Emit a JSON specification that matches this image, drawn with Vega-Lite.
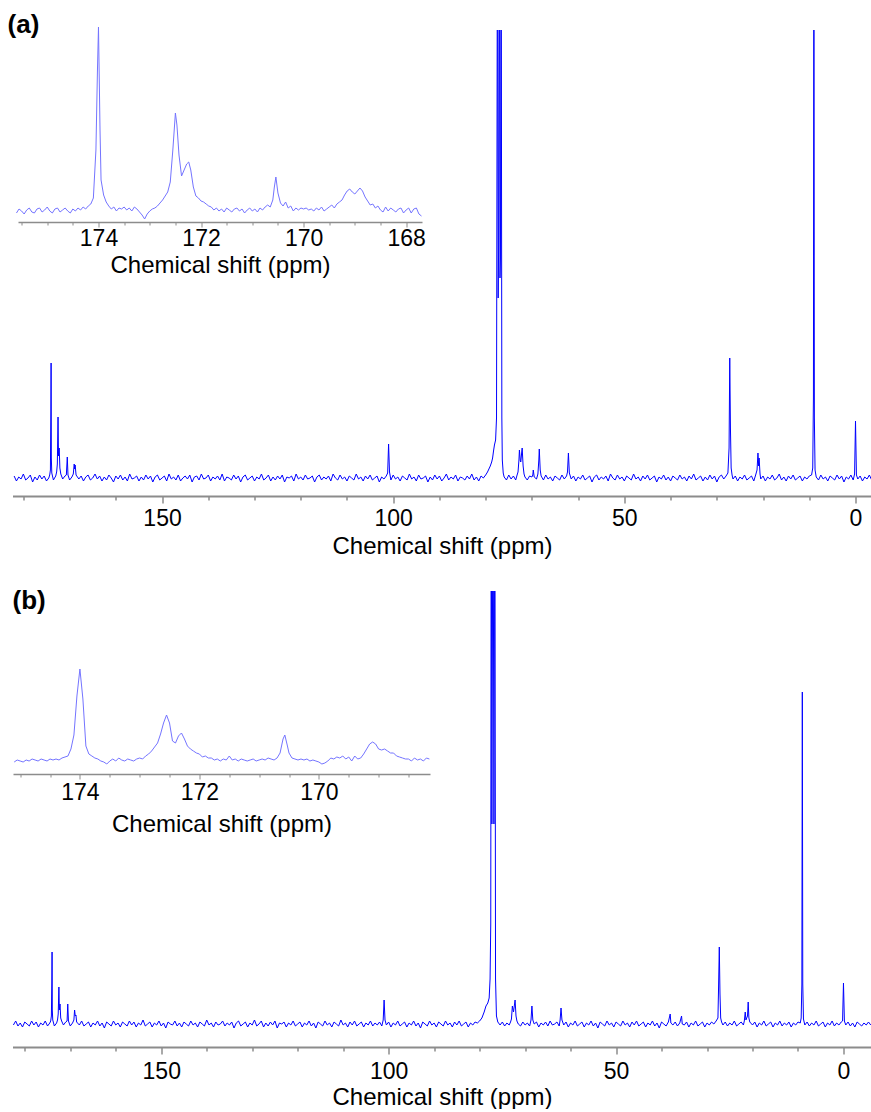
{
"$schema": "https://vega.github.io/schema/vega-lite/v6.json",
"background": "white",
"padding": {"left": 7.5, "top": 12, "right": 0, "bottom": 0},
"spacing": 30,
"config": {"view": {"stroke": null}, "font": "Liberation Sans", "axis": {"labelOverlap": false}},
"datasets": {
"mainA": [
{"ppm":182.0,"int":2},{"ppm":181.5,"int":-3},{"ppm":181.0,"int":1},{"ppm":180.5,"int":-1},{"ppm":180.0,"int":4},{"ppm":179.5,"int":-2},{"ppm":179.0,"int":0},{"ppm":178.5,"int":3},{"ppm":178.0,"int":-4},{"ppm":177.5,"int":1},{"ppm":177.0,"int":-2},{"ppm":176.5,"int":3},{"ppm":176.0,"int":-1},{"ppm":175.5,"int":2},{"ppm":175.0,"int":-3},{"ppm":174.5,"int":0},{"ppm":174.3,"int":3},{"ppm":174.15,"int":8},{"ppm":174.05,"int":67},{"ppm":174.0,"int":115},{"ppm":173.95,"int":20},{"ppm":173.85,"int":5},{"ppm":173.5,"int":-2},{"ppm":173.0,"int":2},{"ppm":172.8,"int":6},{"ppm":172.65,"int":14},{"ppm":172.5,"int":61},{"ppm":172.4,"int":22},{"ppm":172.25,"int":30},{"ppm":172.1,"int":10},{"ppm":171.9,"int":4},{"ppm":171.5,"int":-1},{"ppm":171.0,"int":2},{"ppm":170.7,"int":3},{"ppm":170.5,"int":21},{"ppm":170.35,"int":3},{"ppm":170.0,"int":-2},{"ppm":169.5,"int":1},{"ppm":169.2,"int":4},{"ppm":169.0,"int":14},{"ppm":168.9,"int":9},{"ppm":168.8,"int":13},{"ppm":168.6,"int":3},{"ppm":168.0,"int":-1},{"ppm":167.5,"int":2},{"ppm":167.0,"int":-3},{"ppm":166.5,"int":1},{"ppm":166.0,"int":3},{"ppm":165.5,"int":-2},{"ppm":165.0,"int":0},{"ppm":164.5,"int":4},{"ppm":164.0,"int":-1},{"ppm":163.5,"int":2},{"ppm":163.0,"int":-3},{"ppm":162.5,"int":1},{"ppm":162.0,"int":-2},{"ppm":161.5,"int":3},{"ppm":161.0,"int":0},{"ppm":160.5,"int":-4},{"ppm":160.0,"int":2},{"ppm":159.5,"int":-1},{"ppm":159.0,"int":3},{"ppm":158.5,"int":-2},{"ppm":158.0,"int":1},{"ppm":157.5,"int":-3},{"ppm":157.0,"int":4},{"ppm":156.5,"int":-1},{"ppm":156.0,"int":0},{"ppm":155.5,"int":2},{"ppm":155.0,"int":-3},{"ppm":154.5,"int":1},{"ppm":154.0,"int":-2},{"ppm":153.5,"int":3},{"ppm":153.0,"int":-1},{"ppm":152.5,"int":2},{"ppm":152.0,"int":-4},{"ppm":151.5,"int":1},{"ppm":151.0,"int":3},{"ppm":150.5,"int":-2},{"ppm":150.0,"int":0},{"ppm":149.5,"int":2},{"ppm":149.0,"int":-3},{"ppm":148.5,"int":4},{"ppm":148.0,"int":-1},{"ppm":147.5,"int":1},{"ppm":147.0,"int":-2},{"ppm":146.5,"int":3},{"ppm":146.0,"int":-3},{"ppm":145.5,"int":0},{"ppm":145.0,"int":2},{"ppm":144.5,"int":-1},{"ppm":144.0,"int":3},{"ppm":143.5,"int":-4},{"ppm":143.0,"int":1},{"ppm":142.5,"int":2},{"ppm":142.0,"int":-2},{"ppm":141.5,"int":4},{"ppm":141.0,"int":-1},{"ppm":140.5,"int":0},{"ppm":140.0,"int":3},{"ppm":139.5,"int":-3},{"ppm":139.0,"int":1},{"ppm":138.5,"int":-1},{"ppm":138.0,"int":2},{"ppm":137.5,"int":-2},{"ppm":137.0,"int":4},{"ppm":136.5,"int":-3},{"ppm":136.0,"int":1},{"ppm":135.5,"int":0},{"ppm":135.0,"int":-2},{"ppm":134.5,"int":3},{"ppm":134.0,"int":-1},{"ppm":133.5,"int":2},{"ppm":133.0,"int":-4},{"ppm":132.5,"int":1},{"ppm":132.0,"int":3},{"ppm":131.5,"int":-2},{"ppm":131.0,"int":0},{"ppm":130.5,"int":2},{"ppm":130.0,"int":-3},{"ppm":129.5,"int":1},{"ppm":129.0,"int":-1},{"ppm":128.5,"int":4},{"ppm":128.0,"int":-2},{"ppm":127.5,"int":0},{"ppm":127.0,"int":3},{"ppm":126.5,"int":-3},{"ppm":126.0,"int":1},{"ppm":125.5,"int":-2},{"ppm":125.0,"int":2},{"ppm":124.5,"int":-1},{"ppm":124.0,"int":3},{"ppm":123.5,"int":-4},{"ppm":123.0,"int":1},{"ppm":122.5,"int":0},{"ppm":122.0,"int":2},{"ppm":121.5,"int":-3},{"ppm":121.0,"int":4},{"ppm":120.5,"int":-1},{"ppm":120.0,"int":1},{"ppm":119.5,"int":-2},{"ppm":119.0,"int":3},{"ppm":118.5,"int":-1},{"ppm":118.0,"int":0},{"ppm":117.5,"int":2},{"ppm":117.0,"int":-4},{"ppm":116.5,"int":1},{"ppm":116.0,"int":3},{"ppm":115.5,"int":-2},{"ppm":115.0,"int":1},{"ppm":114.5,"int":-1},{"ppm":114.0,"int":2},{"ppm":113.5,"int":-3},{"ppm":113.0,"int":4},{"ppm":112.5,"int":0},{"ppm":112.0,"int":-2},{"ppm":111.5,"int":3},{"ppm":111.0,"int":-1},{"ppm":110.5,"int":1},{"ppm":110.0,"int":-3},{"ppm":109.5,"int":2},{"ppm":109.0,"int":0},{"ppm":108.5,"int":-2},{"ppm":108.0,"int":4},{"ppm":107.5,"int":-1},{"ppm":107.0,"int":1},{"ppm":106.5,"int":-3},{"ppm":106.0,"int":2},{"ppm":105.5,"int":-1},{"ppm":105.0,"int":3},{"ppm":104.5,"int":-2},{"ppm":104.0,"int":0},{"ppm":103.5,"int":2},{"ppm":103.0,"int":-4},{"ppm":102.5,"int":1},{"ppm":102.0,"int":-1},{"ppm":101.5,"int":2},{"ppm":101.2,"int":5},{"ppm":101.0,"int":34},{"ppm":100.8,"int":6},{"ppm":100.5,"int":-2},{"ppm":100.0,"int":3},{"ppm":99.5,"int":-1},{"ppm":99.0,"int":1},{"ppm":98.5,"int":-3},{"ppm":98.0,"int":2},{"ppm":97.5,"int":0},{"ppm":97.0,"int":-2},{"ppm":96.5,"int":4},{"ppm":96.0,"int":-1},{"ppm":95.5,"int":1},{"ppm":95.0,"int":-3},{"ppm":94.5,"int":3},{"ppm":94.0,"int":-1},{"ppm":93.5,"int":0},{"ppm":93.0,"int":2},{"ppm":92.5,"int":-4},{"ppm":92.0,"int":1},{"ppm":91.5,"int":-2},{"ppm":91.0,"int":3},{"ppm":90.5,"int":-1},{"ppm":90.0,"int":2},{"ppm":89.5,"int":-3},{"ppm":89.0,"int":0},{"ppm":88.5,"int":4},{"ppm":88.0,"int":-2},{"ppm":87.5,"int":1},{"ppm":87.0,"int":-1},{"ppm":86.5,"int":3},{"ppm":86.0,"int":-3},{"ppm":85.5,"int":1},{"ppm":85.0,"int":0},{"ppm":84.5,"int":-2},{"ppm":84.0,"int":2},{"ppm":83.5,"int":-1},{"ppm":83.0,"int":4},{"ppm":82.5,"int":-2},{"ppm":82.0,"int":1},{"ppm":81.5,"int":-3},{"ppm":81.0,"int":2},{"ppm":80.5,"int":0},{"ppm":80.0,"int":3},{"ppm":79.6,"int":6},{"ppm":79.3,"int":9},{"ppm":79.0,"int":12},{"ppm":78.7,"int":16},{"ppm":78.5,"int":20},{"ppm":78.3,"int":27},{"ppm":78.1,"int":33},{"ppm":77.85,"int":38},{"ppm":77.65,"int":60},{"ppm":77.45,"int":600},{"ppm":77.3,"int":180},{"ppm":77.2,"int":230},{"ppm":77.05,"int":600},{"ppm":76.9,"int":200},{"ppm":76.8,"int":220},{"ppm":76.65,"int":600},{"ppm":76.5,"int":60},{"ppm":76.4,"int":18},{"ppm":76.2,"int":5},{"ppm":76.0,"int":1},{"ppm":75.5,"int":-2},{"ppm":75.0,"int":3},{"ppm":74.5,"int":-1},{"ppm":74.0,"int":2},{"ppm":73.5,"int":-2},{"ppm":73.2,"int":3},{"ppm":73.0,"int":6},{"ppm":72.8,"int":18},{"ppm":72.7,"int":28},{"ppm":72.5,"int":17},{"ppm":72.4,"int":16},{"ppm":72.2,"int":26},{"ppm":72.1,"int":30},{"ppm":71.9,"int":12},{"ppm":71.7,"int":4},{"ppm":71.5,"int":1},{"ppm":71.0,"int":-2},{"ppm":70.5,"int":2},{"ppm":70.0,"int":1},{"ppm":69.8,"int":3},{"ppm":69.7,"int":8},{"ppm":69.5,"int":1},{"ppm":69.0,"int":-1},{"ppm":68.7,"int":4},{"ppm":68.5,"int":18},{"ppm":68.4,"int":29},{"ppm":68.2,"int":8},{"ppm":68.0,"int":2},{"ppm":67.5,"int":-2},{"ppm":67.0,"int":3},{"ppm":66.5,"int":-1},{"ppm":66.0,"int":1},{"ppm":65.5,"int":-3},{"ppm":65.0,"int":2},{"ppm":64.5,"int":0},{"ppm":64.0,"int":-2},{"ppm":63.5,"int":3},{"ppm":63.0,"int":-1},{"ppm":62.5,"int":2},{"ppm":62.3,"int":6},{"ppm":62.1,"int":25},{"ppm":61.9,"int":5},{"ppm":61.5,"int":-1},{"ppm":61.0,"int":2},{"ppm":60.5,"int":-3},{"ppm":60.0,"int":1},{"ppm":59.5,"int":-1},{"ppm":59.0,"int":3},{"ppm":58.5,"int":-2},{"ppm":58.0,"int":0},{"ppm":57.5,"int":2},{"ppm":57.0,"int":-4},{"ppm":56.5,"int":1},{"ppm":56.0,"int":3},{"ppm":55.5,"int":-2},{"ppm":55.0,"int":1},{"ppm":54.5,"int":-1},{"ppm":54.0,"int":2},{"ppm":53.5,"int":-3},{"ppm":53.0,"int":4},{"ppm":52.5,"int":0},{"ppm":52.0,"int":-2},{"ppm":51.5,"int":3},{"ppm":51.0,"int":-1},{"ppm":50.5,"int":1},{"ppm":50.0,"int":-3},{"ppm":49.5,"int":2},{"ppm":49.0,"int":0},{"ppm":48.5,"int":-2},{"ppm":48.0,"int":4},{"ppm":47.5,"int":-1},{"ppm":47.0,"int":1},{"ppm":46.5,"int":-3},{"ppm":46.0,"int":2},{"ppm":45.5,"int":-1},{"ppm":45.0,"int":3},{"ppm":44.5,"int":-2},{"ppm":44.0,"int":0},{"ppm":43.5,"int":2},{"ppm":43.0,"int":-4},{"ppm":42.5,"int":1},{"ppm":42.0,"int":-1},{"ppm":41.5,"int":3},{"ppm":41.0,"int":-2},{"ppm":40.5,"int":1},{"ppm":40.0,"int":-3},{"ppm":39.5,"int":2},{"ppm":39.0,"int":0},{"ppm":38.5,"int":-2},{"ppm":38.0,"int":3},{"ppm":37.5,"int":-1},{"ppm":37.0,"int":1},{"ppm":36.5,"int":-3},{"ppm":36.0,"int":2},{"ppm":35.5,"int":-1},{"ppm":35.0,"int":4},{"ppm":34.5,"int":-2},{"ppm":34.0,"int":0},{"ppm":33.5,"int":2},{"ppm":33.0,"int":-3},{"ppm":32.5,"int":1},{"ppm":32.0,"int":-2},{"ppm":31.5,"int":3},{"ppm":31.0,"int":-1},{"ppm":30.5,"int":2},{"ppm":30.0,"int":-4},{"ppm":29.5,"int":1},{"ppm":29.0,"int":3},{"ppm":28.5,"int":-1},{"ppm":28.0,"int":2},{"ppm":27.6,"int":5},{"ppm":27.35,"int":30},{"ppm":27.2,"int":120},{"ppm":27.05,"int":50},{"ppm":26.9,"int":10},{"ppm":26.7,"int":3},{"ppm":26.5,"int":-1},{"ppm":26.0,"int":2},{"ppm":25.5,"int":-3},{"ppm":25.0,"int":1},{"ppm":24.5,"int":-1},{"ppm":24.0,"int":3},{"ppm":23.5,"int":-2},{"ppm":23.0,"int":0},{"ppm":22.5,"int":2},{"ppm":22.0,"int":-3},{"ppm":21.6,"int":3},{"ppm":21.3,"int":8},{"ppm":21.1,"int":25},{"ppm":20.95,"int":12},{"ppm":20.85,"int":20},{"ppm":20.65,"int":4},{"ppm":20.5,"int":-1},{"ppm":20.0,"int":2},{"ppm":19.5,"int":-3},{"ppm":19.0,"int":1},{"ppm":18.5,"int":-1},{"ppm":18.0,"int":3},{"ppm":17.5,"int":-2},{"ppm":17.0,"int":0},{"ppm":16.5,"int":4},{"ppm":16.0,"int":-2},{"ppm":15.5,"int":1},{"ppm":15.0,"int":-3},{"ppm":14.5,"int":2},{"ppm":14.0,"int":-1},{"ppm":13.5,"int":3},{"ppm":13.0,"int":-2},{"ppm":12.5,"int":0},{"ppm":12.0,"int":2},{"ppm":11.5,"int":-3},{"ppm":11.0,"int":1},{"ppm":10.5,"int":-1},{"ppm":10.0,"int":2},{"ppm":9.5,"int":3},{"ppm":9.25,"int":10},{"ppm":9.1,"int":80},{"ppm":9.0,"int":600},{"ppm":8.9,"int":60},{"ppm":8.75,"int":8},{"ppm":8.5,"int":1},{"ppm":8.0,"int":-2},{"ppm":7.5,"int":3},{"ppm":7.0,"int":-1},{"ppm":6.5,"int":1},{"ppm":6.0,"int":-3},{"ppm":5.5,"int":2},{"ppm":5.0,"int":0},{"ppm":4.5,"int":-2},{"ppm":4.0,"int":3},{"ppm":3.5,"int":-1},{"ppm":3.0,"int":2},{"ppm":2.5,"int":-4},{"ppm":2.0,"int":1},{"ppm":1.5,"int":-1},{"ppm":1.0,"int":3},{"ppm":0.5,"int":-2},{"ppm":0.2,"int":4},{"ppm":0.0,"int":57},{"ppm":-0.2,"int":3},{"ppm":-0.5,"int":-1},{"ppm":-1.0,"int":2},{"ppm":-1.5,"int":-3},{"ppm":-2.0,"int":1},{"ppm":-2.5,"int":-1},{"ppm":-3.0,"int":3},{"ppm":-3.5,"int":-2}
],
"insetA": [
{"ppm":175.6,"int":-3},{"ppm":175.55,"int":1},{"ppm":175.5,"int":-1},{"ppm":175.45,"int":-4},{"ppm":175.4,"int":0},{"ppm":175.35,"int":2},{"ppm":175.3,"int":-2},{"ppm":175.25,"int":-3},{"ppm":175.2,"int":1},{"ppm":175.15,"int":2},{"ppm":175.1,"int":-2},{"ppm":175.05,"int":0},{"ppm":175.0,"int":3},{"ppm":174.95,"int":-1},{"ppm":174.9,"int":-3},{"ppm":174.85,"int":1},{"ppm":174.8,"int":2},{"ppm":174.75,"int":-2},{"ppm":174.7,"int":0},{"ppm":174.65,"int":2},{"ppm":174.6,"int":-1},{"ppm":174.55,"int":-3},{"ppm":174.5,"int":1},{"ppm":174.45,"int":-1},{"ppm":174.4,"int":2},{"ppm":174.35,"int":0},{"ppm":174.3,"int":3},{"ppm":174.25,"int":1},{"ppm":174.2,"int":4},{"ppm":174.15,"int":6},{"ppm":174.1,"int":12},{"ppm":174.05,"int":60},{"ppm":174.02,"int":140},{"ppm":174.0,"int":183},{"ppm":173.97,"int":80},{"ppm":173.95,"int":30},{"ppm":173.9,"int":15},{"ppm":173.85,"int":8},{"ppm":173.8,"int":4},{"ppm":173.75,"int":1},{"ppm":173.7,"int":3},{"ppm":173.65,"int":-1},{"ppm":173.6,"int":2},{"ppm":173.55,"int":1},{"ppm":173.5,"int":3},{"ppm":173.45,"int":0},{"ppm":173.4,"int":2},{"ppm":173.35,"int":-1},{"ppm":173.3,"int":3},{"ppm":173.25,"int":1},{"ppm":173.2,"int":-2},{"ppm":173.15,"int":-5},{"ppm":173.1,"int":-9},{"ppm":173.05,"int":-4},{"ppm":173.0,"int":-1},{"ppm":172.95,"int":1},{"ppm":172.9,"int":2},{"ppm":172.85,"int":4},{"ppm":172.8,"int":7},{"ppm":172.75,"int":10},{"ppm":172.7,"int":14},{"ppm":172.65,"int":18},{"ppm":172.6,"int":28},{"ppm":172.55,"int":60},{"ppm":172.5,"int":97},{"ppm":172.47,"int":85},{"ppm":172.43,"int":55},{"ppm":172.38,"int":34},{"ppm":172.33,"int":40},{"ppm":172.28,"int":46},{"ppm":172.24,"int":48},{"ppm":172.2,"int":40},{"ppm":172.15,"int":23},{"ppm":172.1,"int":14},{"ppm":172.05,"int":12},{"ppm":172.0,"int":9},{"ppm":171.95,"int":8},{"ppm":171.9,"int":6},{"ppm":171.85,"int":4},{"ppm":171.8,"int":3},{"ppm":171.75,"int":0},{"ppm":171.7,"int":2},{"ppm":171.65,"int":-1},{"ppm":171.6,"int":1},{"ppm":171.55,"int":-2},{"ppm":171.5,"int":2},{"ppm":171.45,"int":0},{"ppm":171.4,"int":-2},{"ppm":171.35,"int":1},{"ppm":171.3,"int":2},{"ppm":171.25,"int":-1},{"ppm":171.2,"int":1},{"ppm":171.15,"int":-3},{"ppm":171.1,"int":0},{"ppm":171.05,"int":2},{"ppm":171.0,"int":-1},{"ppm":170.95,"int":1},{"ppm":170.9,"int":-2},{"ppm":170.85,"int":2},{"ppm":170.8,"int":0},{"ppm":170.75,"int":3},{"ppm":170.7,"int":5},{"ppm":170.65,"int":3},{"ppm":170.6,"int":10},{"ppm":170.57,"int":23},{"ppm":170.54,"int":33},{"ppm":170.5,"int":17},{"ppm":170.45,"int":7},{"ppm":170.4,"int":4},{"ppm":170.35,"int":8},{"ppm":170.3,"int":2},{"ppm":170.25,"int":4},{"ppm":170.2,"int":-1},{"ppm":170.15,"int":2},{"ppm":170.1,"int":0},{"ppm":170.05,"int":2},{"ppm":170.0,"int":1},{"ppm":169.95,"int":2},{"ppm":169.9,"int":0},{"ppm":169.85,"int":1},{"ppm":169.8,"int":-1},{"ppm":169.75,"int":2},{"ppm":169.7,"int":0},{"ppm":169.65,"int":3},{"ppm":169.6,"int":-1},{"ppm":169.55,"int":1},{"ppm":169.5,"int":3},{"ppm":169.45,"int":5},{"ppm":169.4,"int":2},{"ppm":169.35,"int":6},{"ppm":169.3,"int":8},{"ppm":169.25,"int":10},{"ppm":169.2,"int":15},{"ppm":169.15,"int":19},{"ppm":169.1,"int":21},{"ppm":169.05,"int":18},{"ppm":169.0,"int":16},{"ppm":168.95,"int":19},{"ppm":168.9,"int":22},{"ppm":168.85,"int":19},{"ppm":168.8,"int":13},{"ppm":168.75,"int":9},{"ppm":168.7,"int":5},{"ppm":168.65,"int":6},{"ppm":168.6,"int":2},{"ppm":168.55,"int":4},{"ppm":168.5,"int":0},{"ppm":168.45,"int":-2},{"ppm":168.4,"int":3},{"ppm":168.35,"int":-1},{"ppm":168.3,"int":2},{"ppm":168.25,"int":0},{"ppm":168.2,"int":-2},{"ppm":168.15,"int":1},{"ppm":168.1,"int":2},{"ppm":168.05,"int":-3},{"ppm":168.0,"int":0},{"ppm":167.95,"int":2},{"ppm":167.9,"int":-3},{"ppm":167.85,"int":1},{"ppm":167.8,"int":2},{"ppm":167.75,"int":-4},{"ppm":167.7,"int":-6}
],
"mainB": [
{"ppm":182.5,"int":-1},{"ppm":182.0,"int":3},{"ppm":181.5,"int":-2},{"ppm":181.0,"int":1},{"ppm":180.5,"int":-3},{"ppm":180.0,"int":2},{"ppm":179.5,"int":0},{"ppm":179.0,"int":-2},{"ppm":178.5,"int":3},{"ppm":178.0,"int":-1},{"ppm":177.5,"int":2},{"ppm":177.0,"int":-3},{"ppm":176.5,"int":1},{"ppm":176.0,"int":-1},{"ppm":175.5,"int":3},{"ppm":175.0,"int":-2},{"ppm":174.5,"int":1},{"ppm":174.3,"int":3},{"ppm":174.15,"int":8},{"ppm":174.05,"int":42},{"ppm":174.0,"int":72},{"ppm":173.95,"int":14},{"ppm":173.85,"int":4},{"ppm":173.5,"int":-2},{"ppm":173.0,"int":1},{"ppm":172.8,"int":4},{"ppm":172.65,"int":10},{"ppm":172.5,"int":37},{"ppm":172.4,"int":14},{"ppm":172.25,"int":20},{"ppm":172.1,"int":6},{"ppm":171.9,"int":3},{"ppm":171.5,"int":-1},{"ppm":171.0,"int":2},{"ppm":170.7,"int":3},{"ppm":170.55,"int":20},{"ppm":170.4,"int":3},{"ppm":170.0,"int":-2},{"ppm":169.5,"int":1},{"ppm":169.2,"int":4},{"ppm":169.05,"int":14},{"ppm":168.9,"int":8},{"ppm":168.75,"int":9},{"ppm":168.6,"int":2},{"ppm":168.0,"int":-1},{"ppm":167.5,"int":3},{"ppm":167.0,"int":-2},{"ppm":166.5,"int":0},{"ppm":166.0,"int":2},{"ppm":165.5,"int":-3},{"ppm":165.0,"int":1},{"ppm":164.5,"int":-1},{"ppm":164.0,"int":3},{"ppm":163.5,"int":-2},{"ppm":163.0,"int":1},{"ppm":162.5,"int":-4},{"ppm":162.0,"int":2},{"ppm":161.5,"int":0},{"ppm":161.0,"int":-2},{"ppm":160.5,"int":3},{"ppm":160.0,"int":-1},{"ppm":159.5,"int":1},{"ppm":159.0,"int":-3},{"ppm":158.5,"int":2},{"ppm":158.0,"int":0},{"ppm":157.5,"int":-2},{"ppm":157.0,"int":3},{"ppm":156.5,"int":-1},{"ppm":156.0,"int":2},{"ppm":155.5,"int":-3},{"ppm":155.0,"int":1},{"ppm":154.5,"int":-1},{"ppm":154.0,"int":4},{"ppm":153.5,"int":-2},{"ppm":153.0,"int":0},{"ppm":152.5,"int":2},{"ppm":152.0,"int":-3},{"ppm":151.5,"int":1},{"ppm":151.0,"int":-1},{"ppm":150.5,"int":3},{"ppm":150.0,"int":-2},{"ppm":149.5,"int":1},{"ppm":149.0,"int":-4},{"ppm":148.5,"int":2},{"ppm":148.0,"int":0},{"ppm":147.5,"int":-1},{"ppm":147.0,"int":3},{"ppm":146.5,"int":-2},{"ppm":146.0,"int":1},{"ppm":145.5,"int":-3},{"ppm":145.0,"int":2},{"ppm":144.5,"int":0},{"ppm":144.0,"int":-2},{"ppm":143.5,"int":3},{"ppm":143.0,"int":-1},{"ppm":142.5,"int":1},{"ppm":142.0,"int":-3},{"ppm":141.5,"int":2},{"ppm":141.0,"int":0},{"ppm":140.5,"int":-2},{"ppm":140.0,"int":4},{"ppm":139.5,"int":-1},{"ppm":139.0,"int":1},{"ppm":138.5,"int":-3},{"ppm":138.0,"int":2},{"ppm":137.5,"int":-1},{"ppm":137.0,"int":0},{"ppm":136.5,"int":3},{"ppm":136.0,"int":-2},{"ppm":135.5,"int":1},{"ppm":135.0,"int":-1},{"ppm":134.5,"int":2},{"ppm":134.0,"int":-4},{"ppm":133.5,"int":1},{"ppm":133.0,"int":3},{"ppm":132.5,"int":-2},{"ppm":132.0,"int":0},{"ppm":131.5,"int":2},{"ppm":131.0,"int":-3},{"ppm":130.5,"int":1},{"ppm":130.0,"int":-1},{"ppm":129.5,"int":4},{"ppm":129.0,"int":-2},{"ppm":128.5,"int":0},{"ppm":128.0,"int":3},{"ppm":127.5,"int":-3},{"ppm":127.0,"int":1},{"ppm":126.5,"int":-2},{"ppm":126.0,"int":2},{"ppm":125.5,"int":-1},{"ppm":125.0,"int":3},{"ppm":124.5,"int":-4},{"ppm":124.0,"int":1},{"ppm":123.5,"int":0},{"ppm":123.0,"int":2},{"ppm":122.5,"int":-3},{"ppm":122.0,"int":1},{"ppm":121.5,"int":-1},{"ppm":121.0,"int":3},{"ppm":120.5,"int":-2},{"ppm":120.0,"int":0},{"ppm":119.5,"int":2},{"ppm":119.0,"int":-3},{"ppm":118.5,"int":1},{"ppm":118.0,"int":-1},{"ppm":117.5,"int":3},{"ppm":117.0,"int":-2},{"ppm":116.5,"int":1},{"ppm":116.0,"int":-4},{"ppm":115.5,"int":2},{"ppm":115.0,"int":0},{"ppm":114.5,"int":-2},{"ppm":114.0,"int":3},{"ppm":113.5,"int":-1},{"ppm":113.0,"int":1},{"ppm":112.5,"int":-3},{"ppm":112.0,"int":2},{"ppm":111.5,"int":0},{"ppm":111.0,"int":-2},{"ppm":110.5,"int":4},{"ppm":110.0,"int":-1},{"ppm":109.5,"int":1},{"ppm":109.0,"int":-3},{"ppm":108.5,"int":2},{"ppm":108.0,"int":-1},{"ppm":107.5,"int":3},{"ppm":107.0,"int":-2},{"ppm":106.5,"int":0},{"ppm":106.0,"int":2},{"ppm":105.5,"int":-3},{"ppm":105.0,"int":1},{"ppm":104.5,"int":-1},{"ppm":104.0,"int":3},{"ppm":103.5,"int":-2},{"ppm":103.0,"int":1},{"ppm":102.5,"int":-1},{"ppm":102.0,"int":2},{"ppm":101.5,"int":-2},{"ppm":101.2,"int":4},{"ppm":101.0,"int":24},{"ppm":100.8,"int":4},{"ppm":100.5,"int":-1},{"ppm":100.0,"int":2},{"ppm":99.5,"int":-3},{"ppm":99.0,"int":1},{"ppm":98.5,"int":-1},{"ppm":98.0,"int":3},{"ppm":97.5,"int":-2},{"ppm":97.0,"int":0},{"ppm":96.5,"int":2},{"ppm":96.0,"int":-3},{"ppm":95.5,"int":1},{"ppm":95.0,"int":-1},{"ppm":94.5,"int":3},{"ppm":94.0,"int":-2},{"ppm":93.5,"int":1},{"ppm":93.0,"int":-4},{"ppm":92.5,"int":2},{"ppm":92.0,"int":0},{"ppm":91.5,"int":-2},{"ppm":91.0,"int":3},{"ppm":90.5,"int":-1},{"ppm":90.0,"int":1},{"ppm":89.5,"int":-3},{"ppm":89.0,"int":2},{"ppm":88.5,"int":0},{"ppm":88.0,"int":-2},{"ppm":87.5,"int":3},{"ppm":87.0,"int":-1},{"ppm":86.5,"int":1},{"ppm":86.0,"int":-3},{"ppm":85.5,"int":2},{"ppm":85.0,"int":-1},{"ppm":84.5,"int":3},{"ppm":84.0,"int":-2},{"ppm":83.5,"int":0},{"ppm":83.0,"int":2},{"ppm":82.5,"int":-3},{"ppm":82.0,"int":1},{"ppm":81.5,"int":-1},{"ppm":81.0,"int":2},{"ppm":80.5,"int":1},{"ppm":80.0,"int":3},{"ppm":79.5,"int":6},{"ppm":79.0,"int":12},{"ppm":78.6,"int":18},{"ppm":78.2,"int":21},{"ppm":77.9,"int":26},{"ppm":77.7,"int":45},{"ppm":77.55,"int":100},{"ppm":77.45,"int":600},{"ppm":77.3,"int":200},{"ppm":77.05,"int":600},{"ppm":76.85,"int":200},{"ppm":76.65,"int":600},{"ppm":76.5,"int":45},{"ppm":76.3,"int":8},{"ppm":76.0,"int":2},{"ppm":75.5,"int":-1},{"ppm":75.0,"int":2},{"ppm":74.5,"int":-2},{"ppm":74.0,"int":1},{"ppm":73.5,"int":-1},{"ppm":73.2,"int":2},{"ppm":73.0,"int":5},{"ppm":72.8,"int":18},{"ppm":72.55,"int":12},{"ppm":72.2,"int":24},{"ppm":72.0,"int":8},{"ppm":71.8,"int":3},{"ppm":71.5,"int":0},{"ppm":71.0,"int":-2},{"ppm":70.5,"int":2},{"ppm":70.0,"int":-1},{"ppm":69.5,"int":1},{"ppm":69.0,"int":-2},{"ppm":68.7,"int":4},{"ppm":68.5,"int":18},{"ppm":68.3,"int":4},{"ppm":68.0,"int":0},{"ppm":67.5,"int":2},{"ppm":67.0,"int":-3},{"ppm":66.5,"int":1},{"ppm":66.0,"int":-1},{"ppm":65.5,"int":2},{"ppm":65.0,"int":-2},{"ppm":64.5,"int":3},{"ppm":64.0,"int":-1},{"ppm":63.5,"int":0},{"ppm":63.0,"int":2},{"ppm":62.5,"int":-2},{"ppm":62.3,"int":4},{"ppm":62.1,"int":16},{"ppm":61.9,"int":4},{"ppm":61.5,"int":-1},{"ppm":61.0,"int":2},{"ppm":60.5,"int":-3},{"ppm":60.0,"int":1},{"ppm":59.5,"int":-1},{"ppm":59.0,"int":3},{"ppm":58.5,"int":-2},{"ppm":58.0,"int":0},{"ppm":57.5,"int":2},{"ppm":57.0,"int":-3},{"ppm":56.5,"int":1},{"ppm":56.0,"int":-1},{"ppm":55.5,"int":3},{"ppm":55.0,"int":-2},{"ppm":54.5,"int":1},{"ppm":54.0,"int":-4},{"ppm":53.5,"int":2},{"ppm":53.0,"int":0},{"ppm":52.5,"int":-2},{"ppm":52.0,"int":3},{"ppm":51.5,"int":-1},{"ppm":51.0,"int":1},{"ppm":50.5,"int":-3},{"ppm":50.0,"int":2},{"ppm":49.5,"int":0},{"ppm":49.0,"int":-2},{"ppm":48.5,"int":3},{"ppm":48.0,"int":-1},{"ppm":47.5,"int":1},{"ppm":47.0,"int":-3},{"ppm":46.5,"int":2},{"ppm":46.0,"int":-1},{"ppm":45.5,"int":3},{"ppm":45.0,"int":-2},{"ppm":44.5,"int":0},{"ppm":44.0,"int":2},{"ppm":43.5,"int":-3},{"ppm":43.0,"int":1},{"ppm":42.5,"int":-1},{"ppm":42.0,"int":3},{"ppm":41.5,"int":-2},{"ppm":41.0,"int":1},{"ppm":40.5,"int":-4},{"ppm":40.0,"int":2},{"ppm":39.5,"int":0},{"ppm":39.0,"int":-2},{"ppm":38.5,"int":2},{"ppm":38.1,"int":10},{"ppm":37.95,"int":1},{"ppm":37.5,"int":-1},{"ppm":37.0,"int":2},{"ppm":36.5,"int":-2},{"ppm":36.0,"int":1},{"ppm":35.6,"int":8},{"ppm":35.45,"int":0},{"ppm":35.0,"int":-1},{"ppm":34.5,"int":2},{"ppm":34.0,"int":-3},{"ppm":33.5,"int":1},{"ppm":33.0,"int":-1},{"ppm":32.5,"int":3},{"ppm":32.0,"int":-2},{"ppm":31.5,"int":0},{"ppm":31.0,"int":2},{"ppm":30.5,"int":-3},{"ppm":30.0,"int":1},{"ppm":29.5,"int":-1},{"ppm":29.0,"int":2},{"ppm":28.5,"int":0},{"ppm":28.0,"int":3},{"ppm":27.6,"int":6},{"ppm":27.45,"int":40},{"ppm":27.3,"int":77},{"ppm":27.15,"int":30},{"ppm":27.0,"int":6},{"ppm":26.8,"int":2},{"ppm":26.5,"int":-1},{"ppm":26.0,"int":2},{"ppm":25.5,"int":-2},{"ppm":25.0,"int":1},{"ppm":24.5,"int":-1},{"ppm":24.0,"int":3},{"ppm":23.5,"int":-2},{"ppm":23.0,"int":0},{"ppm":22.5,"int":2},{"ppm":22.0,"int":-1},{"ppm":21.8,"int":3},{"ppm":21.6,"int":12},{"ppm":21.45,"int":4},{"ppm":21.1,"int":8},{"ppm":20.95,"int":22},{"ppm":20.8,"int":6},{"ppm":20.6,"int":2},{"ppm":20.0,"int":-1},{"ppm":19.5,"int":2},{"ppm":19.0,"int":-3},{"ppm":18.5,"int":1},{"ppm":18.0,"int":-1},{"ppm":17.5,"int":3},{"ppm":17.0,"int":-2},{"ppm":16.5,"int":0},{"ppm":16.0,"int":2},{"ppm":15.5,"int":-3},{"ppm":15.0,"int":1},{"ppm":14.5,"int":-1},{"ppm":14.0,"int":3},{"ppm":13.5,"int":-2},{"ppm":13.0,"int":1},{"ppm":12.5,"int":-1},{"ppm":12.0,"int":2},{"ppm":11.5,"int":-3},{"ppm":11.0,"int":1},{"ppm":10.5,"int":-1},{"ppm":10.0,"int":2},{"ppm":9.5,"int":1},{"ppm":9.3,"int":6},{"ppm":9.15,"int":40},{"ppm":9.05,"int":332},{"ppm":8.95,"int":40},{"ppm":8.8,"int":5},{"ppm":8.5,"int":-1},{"ppm":8.0,"int":2},{"ppm":7.5,"int":-2},{"ppm":7.0,"int":1},{"ppm":6.5,"int":-1},{"ppm":6.0,"int":3},{"ppm":5.5,"int":-2},{"ppm":5.0,"int":0},{"ppm":4.5,"int":2},{"ppm":4.0,"int":-3},{"ppm":3.5,"int":1},{"ppm":3.0,"int":-1},{"ppm":2.5,"int":3},{"ppm":2.0,"int":-2},{"ppm":1.5,"int":1},{"ppm":1.0,"int":-1},{"ppm":0.5,"int":2},{"ppm":0.2,"int":3},{"ppm":0.0,"int":41},{"ppm":-0.2,"int":3},{"ppm":-0.5,"int":-1},{"ppm":-1.0,"int":2},{"ppm":-1.5,"int":-2},{"ppm":-2.0,"int":1},{"ppm":-2.5,"int":-3},{"ppm":-3.0,"int":2},{"ppm":-3.5,"int":0},{"ppm":-4.0,"int":-2},{"ppm":-4.5,"int":1},{"ppm":-5.0,"int":-1},{"ppm":-5.5,"int":2},{"ppm":-6.0,"int":-1}
],
"insetB": [
{"ppm":175.1,"int":-2},{"ppm":175.05,"int":0},{"ppm":175.0,"int":-1},{"ppm":174.95,"int":-2},{"ppm":174.9,"int":0},{"ppm":174.85,"int":-1},{"ppm":174.8,"int":1},{"ppm":174.75,"int":0},{"ppm":174.7,"int":-1},{"ppm":174.65,"int":1},{"ppm":174.6,"int":0},{"ppm":174.55,"int":-1},{"ppm":174.5,"int":1},{"ppm":174.45,"int":0},{"ppm":174.4,"int":1},{"ppm":174.35,"int":0},{"ppm":174.3,"int":2},{"ppm":174.2,"int":4},{"ppm":174.15,"int":11},{"ppm":174.1,"int":25},{"ppm":174.05,"int":64},{"ppm":174.0,"int":91},{"ppm":173.95,"int":61},{"ppm":173.9,"int":14},{"ppm":173.85,"int":6},{"ppm":173.8,"int":4},{"ppm":173.75,"int":2},{"ppm":173.7,"int":1},{"ppm":173.65,"int":-1},{"ppm":173.6,"int":-2},{"ppm":173.55,"int":-4},{"ppm":173.5,"int":-1},{"ppm":173.45,"int":1},{"ppm":173.4,"int":-1},{"ppm":173.35,"int":2},{"ppm":173.3,"int":0},{"ppm":173.25,"int":-1},{"ppm":173.2,"int":1},{"ppm":173.15,"int":0},{"ppm":173.1,"int":-1},{"ppm":173.05,"int":1},{"ppm":173.0,"int":2},{"ppm":172.95,"int":1},{"ppm":172.9,"int":4},{"ppm":172.85,"int":6},{"ppm":172.8,"int":9},{"ppm":172.75,"int":13},{"ppm":172.7,"int":17},{"ppm":172.65,"int":26},{"ppm":172.6,"int":37},{"ppm":172.55,"int":45},{"ppm":172.5,"int":37},{"ppm":172.45,"int":19},{"ppm":172.4,"int":17},{"ppm":172.35,"int":24},{"ppm":172.3,"int":27},{"ppm":172.25,"int":21},{"ppm":172.2,"int":14},{"ppm":172.15,"int":11},{"ppm":172.1,"int":9},{"ppm":172.05,"int":7},{"ppm":172.0,"int":6},{"ppm":171.95,"int":3},{"ppm":171.9,"int":4},{"ppm":171.85,"int":2},{"ppm":171.8,"int":2},{"ppm":171.75,"int":0},{"ppm":171.7,"int":1},{"ppm":171.65,"int":-1},{"ppm":171.6,"int":1},{"ppm":171.55,"int":0},{"ppm":171.5,"int":4},{"ppm":171.45,"int":0},{"ppm":171.4,"int":1},{"ppm":171.35,"int":-1},{"ppm":171.3,"int":1},{"ppm":171.25,"int":0},{"ppm":171.2,"int":-1},{"ppm":171.15,"int":0},{"ppm":171.1,"int":1},{"ppm":171.05,"int":-1},{"ppm":171.0,"int":0},{"ppm":170.95,"int":1},{"ppm":170.9,"int":0},{"ppm":170.85,"int":2},{"ppm":170.8,"int":1},{"ppm":170.75,"int":0},{"ppm":170.7,"int":2},{"ppm":170.65,"int":7},{"ppm":170.6,"int":21},{"ppm":170.57,"int":25},{"ppm":170.53,"int":15},{"ppm":170.5,"int":7},{"ppm":170.45,"int":2},{"ppm":170.4,"int":1},{"ppm":170.35,"int":0},{"ppm":170.3,"int":1},{"ppm":170.25,"int":0},{"ppm":170.2,"int":1},{"ppm":170.15,"int":-1},{"ppm":170.1,"int":0},{"ppm":170.05,"int":-1},{"ppm":170.0,"int":-2},{"ppm":169.95,"int":-4},{"ppm":169.9,"int":-3},{"ppm":169.85,"int":-1},{"ppm":169.8,"int":2},{"ppm":169.75,"int":1},{"ppm":169.7,"int":3},{"ppm":169.65,"int":2},{"ppm":169.6,"int":4},{"ppm":169.55,"int":1},{"ppm":169.5,"int":3},{"ppm":169.45,"int":-1},{"ppm":169.4,"int":4},{"ppm":169.35,"int":1},{"ppm":169.3,"int":2},{"ppm":169.25,"int":6},{"ppm":169.2,"int":11},{"ppm":169.15,"int":16},{"ppm":169.1,"int":18},{"ppm":169.05,"int":16},{"ppm":169.0,"int":11},{"ppm":168.95,"int":10},{"ppm":168.9,"int":11},{"ppm":168.85,"int":9},{"ppm":168.8,"int":7},{"ppm":168.75,"int":7},{"ppm":168.7,"int":4},{"ppm":168.65,"int":3},{"ppm":168.6,"int":2},{"ppm":168.55,"int":1},{"ppm":168.5,"int":1},{"ppm":168.45,"int":-1},{"ppm":168.4,"int":2},{"ppm":168.35,"int":0},{"ppm":168.3,"int":1},{"ppm":168.25,"int":-1},{"ppm":168.2,"int":2},{"ppm":168.15,"int":1}
]
},
"vconcat": [
{
"width": 859,
"height": 466,
"resolve": {"scale": {"x": "independent", "y": "independent"}, "axis": {"x": "independent"}},
"layer": [
{
"data": {"name": "mainA"},
"mark": {"type": "line", "color": "#0000ff", "strokeWidth": 1, "clip": true},
"encoding": {
"x": {"field": "ppm", "type": "quantitative", "scale": {"domain": [-3.46, 182.35], "reverse": true, "nice": false, "zero": false},
"axis": {"orient": "bottom", "values": [180,170,160,150,140,130,120,110,100,90,80,70,60,50,40,30,20,10,0], "labelExpr": "datum.value % 50 === 0 ? datum.label : ''", "tickSize": {"condition": {"test": "datum.value % 50 === 0", "value": 7}, "value": 4}, "grid": false, "domainColor": "#8c8c8c", "domainWidth": 2, "tickColor": "#8c8c8c", "tickWidth": 1.5, "labelFontSize": 23, "labelColor": "#000", "labelPadding": 4, "labelFlush": false, "title": "Chemical shift (ppm)", "titleFontSize": 24, "titleFontWeight": "normal", "titleColor": "#000", "titlePadding": 4}},
"y": {"field": "int", "type": "quantitative", "scale": {"domain": [-18, 448], "nice": false, "zero": false}, "axis": null}
}
},
{
"data": {"values": [{"panel": "(a)"}]},
"mark": {"type": "text", "align": "left", "baseline": "alphabetic", "fontSize": 26, "fontWeight": "bold", "color": "#000", "font": "Liberation Sans"},
"encoding": {
"text": {"field": "panel"},
"x": {"datum": 183.43, "type": "quantitative", "scale": {"domain": [-3.46, 182.35], "reverse": true, "nice": false, "zero": false}, "axis": null},
"y": {"datum": 445, "type": "quantitative", "scale": {"domain": [-18, 448], "nice": false, "zero": false}, "axis": null}
}
},
{
"data": {"name": "insetA"},
"mark": {"type": "line", "color": "#7474ff", "strokeWidth": 1},
"encoding": {
"x": {"field": "ppm", "type": "quantitative", "scale": {"domain": [167.69, 175.57], "reverse": true, "range": [5.5, 409.5], "nice": false, "zero": false},
"axis": {"orient": "bottom", "offset": -274, "values": [175.5,175,174.5,174,173.5,173,172.5,172,171.5,171,170.5,170,169.5,169,168.5,168], "labelExpr": "datum.value % 2 === 0 ? '' + datum.value : ''", "tickSize": {"condition": {"test": "datum.value % 2 === 0", "value": 5}, "value": 3}, "grid": false, "domainColor": "#8c8c8c", "domainWidth": 1.5, "tickColor": "#8c8c8c", "tickWidth": 1, "labelFontSize": 23, "labelColor": "#000", "labelPadding": 0, "labelFlush": false, "title": "Chemical shift (ppm)", "titleFontSize": 24, "titleFontWeight": "normal", "titleColor": "#000", "titlePadding": 3}},
"y": {"field": "int", "type": "quantitative", "scale": {"domain": [-10, 190], "range": [190, -10], "nice": false, "zero": false}, "axis": null}
}
}
]
},
{
"width": 859,
"height": 456,
"resolve": {"scale": {"x": "independent", "y": "independent"}, "axis": {"x": "independent"}},
"layer": [
{
"data": {"name": "mainB"},
"mark": {"type": "line", "color": "#0000ff", "strokeWidth": 1, "clip": true},
"encoding": {
"x": {"field": "ppm", "type": "quantitative", "scale": {"domain": [-6.16, 182.7], "reverse": true, "nice": false, "zero": false},
"axis": {"orient": "bottom", "values": [180,170,160,150,140,130,120,110,100,90,80,70,60,50,40,30,20,10,0], "labelExpr": "datum.value % 50 === 0 ? datum.label : ''", "tickSize": {"condition": {"test": "datum.value % 50 === 0", "value": 7}, "value": 4}, "grid": false, "domainColor": "#8c8c8c", "domainWidth": 2, "tickColor": "#8c8c8c", "tickWidth": 1.5, "labelFontSize": 23, "labelColor": "#000", "labelPadding": 6, "labelFlush": false, "title": "Chemical shift (ppm)", "titleFontSize": 24, "titleFontWeight": "normal", "titleColor": "#000", "titlePadding": 2}},
"y": {"field": "int", "type": "quantitative", "scale": {"domain": [-23, 433], "nice": false, "zero": false}, "axis": null}
}
},
{
"data": {"values": [{"panel": "(b)"}]},
"mark": {"type": "text", "align": "left", "baseline": "alphabetic", "fontSize": 26, "fontWeight": "bold", "color": "#000", "font": "Liberation Sans"},
"encoding": {
"text": {"field": "panel"},
"x": {"datum": 182.7, "type": "quantitative", "scale": {"domain": [-6.16, 182.7], "reverse": true, "nice": false, "zero": false}, "axis": null},
"y": {"datum": 415, "type": "quantitative", "scale": {"domain": [-23, 433], "nice": false, "zero": false}, "axis": null}
}
},
{
"data": {"name": "insetB"},
"mark": {"type": "line", "color": "#7474ff", "strokeWidth": 1},
"encoding": {
"x": {"field": "ppm", "type": "quantitative", "scale": {"domain": [168.14, 175.12], "reverse": true, "range": [0.5, 417.5], "nice": false, "zero": false},
"axis": {"orient": "bottom", "offset": -273, "values": [175,174.5,174,173.5,173,172.5,172,171.5,171,170.5,170,169.5,169,168.5], "labelExpr": "datum.value % 2 === 0 ? '' + datum.value : ''", "tickSize": {"condition": {"test": "datum.value % 2 === 0", "value": 5}, "value": 3}, "grid": false, "domainColor": "#8c8c8c", "domainWidth": 1.5, "tickColor": "#8c8c8c", "tickWidth": 1, "labelFontSize": 23, "labelColor": "#000", "labelPadding": 2, "labelFlush": false, "title": "Chemical shift (ppm)", "titleFontSize": 24, "titleFontWeight": "normal", "titleColor": "#000", "titlePadding": 8}},
"y": {"field": "int", "type": "quantitative", "scale": {"domain": [-12, 169], "range": [181, 0], "nice": false, "zero": false}, "axis": null}
}
}
]
}
]
}
